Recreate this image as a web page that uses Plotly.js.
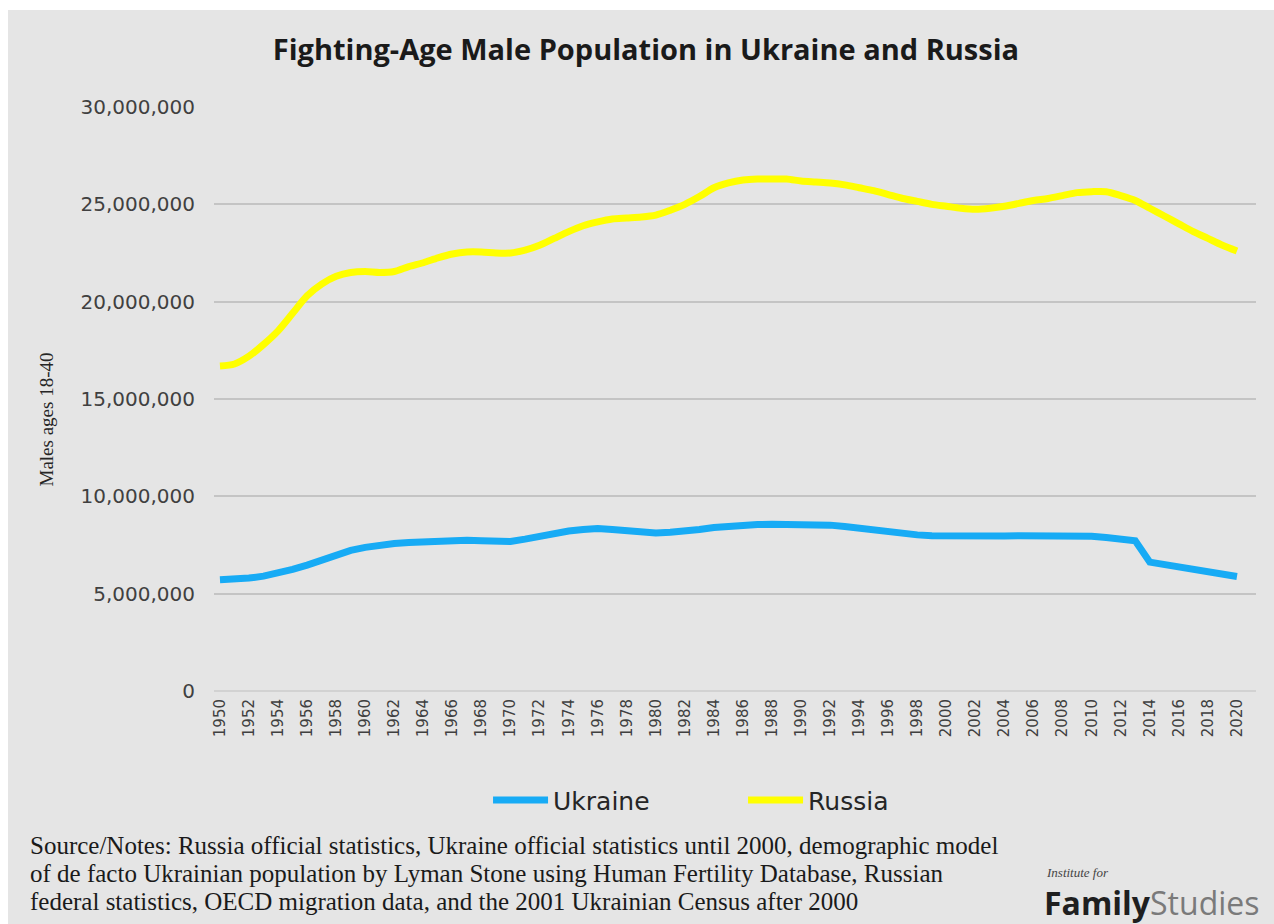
<!DOCTYPE html>
<html>
<head>
<meta charset="utf-8">
<script src="https://cdn.plot.ly/plotly-3.0.1.min.js"></script>
<style>
  body { margin: 0; padding: 0; background: #fff; }
  #plotArea { width: 1274px; height: 924px; }
</style>
</head>
<body>
<div id="plotArea"></div>
<script>
// years 1950..2020
var years = [];
for (var yr = 1950; yr <= 2020; yr++) years.push(yr);

// males aged 18-40, millions
var ukraine = [
  5.72, 5.75, 5.80, 5.90, 6.05, 6.25, 6.47, 6.75, 7.00, 7.22,
  7.38, 7.50, 7.58, 7.63, 7.68, 7.72, 7.75, 7.75, 7.72, 7.68,
  7.68, 7.80, 7.95, 8.10, 8.22, 8.30, 8.35, 8.30, 8.22, 8.15,
  8.12, 8.15, 8.20, 8.30, 8.40, 8.48, 8.52, 8.55, 8.57, 8.58,
  8.58, 8.57, 8.52, 8.45, 8.35, 8.25, 8.15, 8.08, 8.02, 7.97,
  7.95, 7.93, 7.92, 7.94, 7.96, 7.98, 7.98, 7.99, 7.99, 7.98,
  7.95, 7.88, 7.80, 7.72, 6.62, 6.50, 6.38, 6.25, 6.12, 6.00,
  5.88
];
var russia = [
  16.70, 16.80, 17.20, 17.80, 18.50, 19.40, 20.30, 20.90, 21.30, 21.50,
  21.55, 21.50, 21.55, 21.80, 22.00, 22.25, 22.45, 22.55, 22.55, 22.50,
  22.50, 22.65, 22.90, 23.25, 23.60, 23.90, 24.10, 24.25, 24.30, 24.35,
  24.45, 24.70, 25.00, 25.40, 25.85, 26.10, 26.25, 26.30, 26.30, 26.30,
  26.20, 26.15, 26.10, 26.00, 25.85, 25.70, 25.50, 25.30, 25.15, 25.00,
  24.90, 24.80, 24.75, 24.80, 24.90, 25.05, 25.20, 25.30, 25.45, 25.60,
  25.65, 25.65, 25.45, 25.20, 24.80, 24.40, 24.00, 23.60, 23.25, 22.90,
  22.60
];

var noteLines = [
  'Source/Notes: Russia official statistics, Ukraine official statistics until 2000, demographic model',
  'of de facto Ukrainian population by Lyman Stone using Human Fertility Database, Russian',
  'federal statistics, OECD migration data, and the 2001 Ukrainian Census after 2000'
];

function toPeople(arr) { return arr.map(function (v) { return v * 1e6; }); }

var trace1 = {
  x: years,
  y: toPeople(ukraine),
  mode: 'lines',
  type: 'scatter',
  name: 'Ukraine',
  line: { color: '#17abf5', width: 7 }
};

var trace2 = {
  x: years,
  y: toPeople(russia),
  mode: 'lines',
  type: 'scatter',
  name: 'Russia',
  line: { color: '#ffff00', width: 7, shape: 'spline', smoothing: 0.8 }
};

var data = [trace1, trace2];

var bg = '#e5e5e5';

// px -> paper coords of the plot area (214..1256 x 107..691)
function px(x) { return (x - 214) / 1042; }
function py(y) { return (691 - y) / 584; }

var annotations = [
  {
    text: 'Males ages 18-40',
    xref: 'paper', yref: 'paper',
    x: px(33), y: py(420),
    textangle: -90,
    showarrow: false,
    font: { family: 'Liberation Serif', size: 19, color: '#262626' }
  },
  {
    text: '<i>Institute for</i>',
    xref: 'paper', yref: 'paper',
    x: px(1044), xanchor: 'left',
    y: py(872), yanchor: 'middle',
    showarrow: false,
    font: { family: 'Liberation Serif', size: 13, color: '#444444' }
  },
  {
    text: '<b>Family</b><span style="color:#7a7a7a">Studies</span>',
    xref: 'paper', yref: 'paper',
    x: px(1042), xanchor: 'left',
    y: py(903), yanchor: 'middle',
    showarrow: false,
    font: { family: 'Open Sans', size: 32, color: '#1f1f1f' }
  }
];
noteLines.forEach(function (t, i) {
  annotations.push({
    text: t,
    xref: 'paper', yref: 'paper',
    x: px(28), xanchor: 'left',
    y: py(845 + i * 28), yanchor: 'middle',
    showarrow: false,
    font: { family: 'Liberation Serif', size: 25, color: '#1a1a1a' }
  });
});

var layout = {
  width: 1274,
  height: 924,
  margin: { l: 214, r: 18, t: 107, b: 233 },
  paper_bgcolor: bg,
  plot_bgcolor: bg,
  font: { family: 'DejaVu Sans', color: '#404040' },
  title: {
    text: 'Fighting-Age Male Population in Ukraine and Russia',
    font: { family: 'Open Sans', size: 29, color: '#1a1a1a', weight: 'bold' },
    x: 0.507, xref: 'container', xanchor: 'center',
    y: 1 - 50 / 924, yref: 'container', yanchor: 'middle'
  },
  xaxis: {
    range: [1949.59, 2021.31],
    tickmode: 'linear',
    tick0: 1950,
    dtick: 2,
    tickangle: -90,
    tickfont: { family: 'DejaVu Sans', size: 15, color: '#404040' },
    ticklabelstandoff: 4,
    showgrid: false,
    zeroline: false,
    showline: false,
    ticks: ''
  },
  yaxis: {
    range: [0, 30000000],
    tickmode: 'linear',
    tick0: 0,
    dtick: 5000000,
    tickformat: ',d',
    tickfont: { family: 'DejaVu Sans', size: 20, color: '#404040' },
    ticklabelstandoff: 18,
    showgrid: true,
    gridcolor: '#c4c4c4',
    gridwidth: 2,
    zeroline: true,
    zerolinecolor: '#d2d2d2',
    zerolinewidth: 2,
    showline: false,
    ticks: ''
  },
  showlegend: true,
  legend: {
    orientation: 'h',
    x: 0.263, xanchor: 'left',
    y: -0.187, yanchor: 'middle',
    bgcolor: 'rgba(0,0,0,0)',
    font: { family: 'DejaVu Sans', size: 25, color: '#262626' },
    entrywidth: 185,
    entrywidthmode: 'pixels',
    itemwidth: 55
  },
  shapes: [
    // white bands round the grey card
    { type: 'rect', xref: 'paper', yref: 'paper', x0: -0.3, x1: 1.1, y0: 1.166, y1: 1.3,
      fillcolor: '#ffffff', line: { width: 0 }, layer: 'below' },
    { type: 'rect', xref: 'paper', yref: 'paper', x0: -0.3, x1: -0.1977, y0: -0.5, y1: 1.3,
      fillcolor: '#ffffff', line: { width: 0 }, layer: 'below' }
  ],
  annotations: annotations
};

Plotly.newPlot('plotArea', data, layout, { displayModeBar: false });
</script>
</body>
</html>
